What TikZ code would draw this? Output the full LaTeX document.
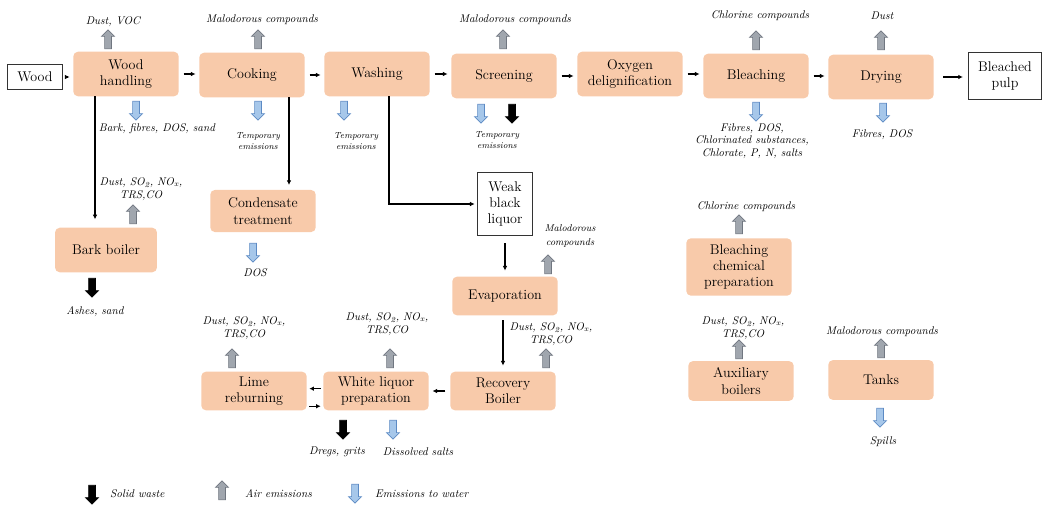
\documentclass[tikz,border=0pt]{standalone}
\usetikzlibrary{arrows.meta,calc,positioning,shapes.arrows}
\definecolor{procfill}{RGB}{248,202,170}
\definecolor{airfill}{RGB}{160,166,174}
\definecolor{airdraw}{RGB}{112,118,128}
\definecolor{waterfill}{RGB}{166,199,234}
\definecolor{waterdraw}{RGB}{92,138,196}
\tikzset{proc/.style={
        fill=procfill,
        rounded corners=4pt,
        align=center,
        minimum width=90pt,
        minimum height=38pt,
        inner sep=1pt,
        font=\fontsize{12}{14}\selectfont,
    },
    endbox/.style={draw=black!80, line width=0.8pt, fill=white, align=center,
        inner sep=2pt, font=\fontsize{12}{14}\selectfont},
    emis/.style={font=\fontsize{9.5}{10.5}\selectfont\itshape, align=center, inner sep=0pt},
    tinyemis/.style={font=\fontsize{7.5}{10}\selectfont\itshape, align=center, inner sep=0pt},
    blockarrow/.style={single arrow, minimum height=16pt, single arrow head extend=2.6pt,
        inner xsep=0pt, inner ysep=2.6pt, line width=0.6pt, rotate=#1},
    airarrow/.style={blockarrow=90, draw=airdraw, fill=airfill},
    waterarrow/.style={blockarrow=-90, draw=waterdraw, fill=waterfill},
    solidarrow/.style={blockarrow=-90, draw=black, fill=black},
    flow/.style={-{Latex[length=4pt,width=4pt]}, line width=1pt, shorten <=4pt, shorten >=3pt},
}
\begin{document}
\begin{tikzpicture}[x=0.03cm,y=-0.03cm]
  \useasboundingbox (0,0) rectangle (1045,505);
  % main line
  \node[endbox, minimum width=47pt, minimum height=22pt] (wood) at (35,77) {Wood};
  \node[proc] (whandling) at (126,74) {Wood\\handling};
  \node[proc] (cook) at (252,75) {Cooking};
  \node[proc] (wash) at (377,74) {Washing};
  \node[proc] (screen) at (504,76) {Screening};
  \node[proc] (oxy) at (630,74) {Oxygen\\delignification};
  \node[proc] (bleach) at (756,76) {Bleaching};
  \node[proc] (dry) at (881,77) {Drying};
  \node[endbox, minimum width=63pt, minimum height=40pt] (pulp) at (1005,76) {Bleached\\pulp};
  % side processes
  \node[proc, minimum width=87pt] (barkb) at (106,250) {Bark boiler};
  \node[proc, minimum height=36pt] (cond) at (263,211) {Condensate\\treatment};
  \node[endbox, minimum width=47pt, minimum height=54pt] (wbl) at (505,204) {Weak\\black\\liquor};
  \node[proc, minimum height=33pt] (evap) at (505,296) {Evaporation};
  \node[proc, minimum height=33pt] (recb) at (503,391) {Recovery\\Boiler};
  \node[proc, minimum height=33pt] (wlp) at (376,391) {White liquor\\preparation};
  \node[proc, minimum height=33pt] (lime) at (254,391) {Lime\\reburning};
  \node[proc, minimum height=49pt] (bcp) at (739,267) {Bleaching\\chemical\\preparation};
  \node[proc, minimum height=34pt] (aux) at (741,381) {Auxiliary\\boilers};
  \node[proc, minimum height=34pt] (tank) at (881,380) {Tanks};

  % flows
  \draw[flow] (wood.east) -- (wood.east -| whandling.west);
  \draw[flow] (whandling.east) -- (whandling.east -| cook.west);
  \draw[flow] (cook.east) -- (cook.east -| wash.west);
  \draw[flow] (wash.east) -- (wash.east -| screen.west);
  \draw[flow] (screen.east) -- (screen.east -| oxy.west);
  \draw[flow] (oxy.east) -- (oxy.east -| bleach.west);
  \draw[flow] (bleach.east) -- (bleach.east -| dry.west);
  \draw[flow, shorten <=8pt, shorten >=4pt] (dry.east) -- (dry.east -| pulp.west);
  \coordinate (whdrop) at ($(whandling.south)+(-31,0)$);
  \coordinate (cookdrop) at ($(cook.south)+(37,0)$);
  \coordinate (washdrop) at ($(wash.south)+(12,0)$);
  \draw[flow, shorten <=0pt, shorten >=7pt] (whdrop) -- (whdrop |- barkb.north);
  \draw[flow, shorten <=0pt, shorten >=4pt] (cookdrop) -- (cookdrop |- cond.north);
  \draw[flow, shorten <=0pt, shorten >=2pt] (washdrop) |- (wbl.west);
  \draw[flow, shorten <=6pt, shorten >=5pt] (wbl.south) -- (evap.north);
  \draw[flow, shorten <=4pt, shorten >=5pt] (evap.south -| recb.north) -- (recb.north);
  \draw[flow] (recb.west) -- (wlp.east);
  \draw[flow, shorten <=2pt, shorten >=2pt] ([yshift=2pt]wlp.west) -- ([yshift=2pt]lime.east);
  \draw[flow, shorten <=2pt, shorten >=2pt] ([yshift=-13pt]lime.east) -- ([yshift=-13pt]wlp.west);

  % air emissions
  \node[airarrow] (whair) at (108,41) {};
  \node[airarrow] (cookair) at (258,41) {};
  \node[airarrow] (scrair) at (503,41) {};
  \node[airarrow] (bleachair) at (756,42) {};
  \node[airarrow] (dryair) at (881,42) {};
  \node[airarrow] (barkair) at (133,216) {};
  \node[airarrow] (evapair) at (548,266) {};
  \node[airarrow] (limeair) at (232,360) {};
  \node[airarrow] (wlpair) at (390,360) {};
  \node[airarrow] (recbair) at (546,360) {};
  \node[airarrow] (bcpair) at (739,226) {};
  \node[airarrow] (auxair) at (739,351) {};
  \node[airarrow] (tankair) at (881,350) {};
  % water emissions
  \node[waterarrow] (whwater) at (136,109) {};
  \node[waterarrow] (cookwater) at (258,109) {};
  \node[waterarrow] (washwater) at (344,109) {};
  \node[waterarrow] (scrwater) at (481,112) {};
  \node[waterarrow] (bleachwater) at (756,110) {};
  \node[waterarrow] (drywater) at (883,111) {};
  \node[waterarrow] (condwater) at (253,251) {};
  \node[waterarrow] (wlpwater) at (393,428) {};
  \node[waterarrow] (tankwater) at (880,416) {};
  % solid waste
  \node[solidarrow] (scrsolid) at (512,112) {};
  \node[solidarrow] (barksolid) at (92,286) {};
  \node[solidarrow] (wlpsolid) at (343,428) {};

  % emission labels
  \node[emis] (whairlbl) at (113,22) {Dust, VOC};
  \node[emis] (cookairlbl) at (262,20) {Malodorous compounds};
  \node[emis] (scrairlbl) at (515,20) {Malodorous compounds};
  \node[emis] (bleachairlbl) at (760,16) {Chlorine compounds};
  \node[emis] (dryairlbl) at (882,16) {Dust};
  \node[emis] (whwaterlbl) at (157,129) {Bark, fibres, DOS, sand};
  \node[tinyemis] (cookwaterlbl) at (258,141) {Temporary\\emissions};
  \node[tinyemis] (washwaterlbl) at (356,141) {Temporary\\emissions};
  \node[tinyemis] (scrwaterlbl) at (497,140) {Temporary\\emissions};
  \node[emis] (bleachwaterlbl) at (752,141) {Fibres, DOS,\\Chlorinated substances,\\Chlorate, P, N, salts};
  \node[emis] (drywaterlbl) at (882,135) {Fibres, DOS};
  \node[emis] (barkairlbl) at (141,189) {Dust, SO\textsubscript{2}, NO\textsubscript{x},\\TRS,CO};
  \node[emis] (barksolidlbl) at (95,312) {Ashes, sand};
  \node[emis] (condwaterlbl) at (255,273) {DOS};
  \node[emis, font=\fontsize{8.5}{12.5}\selectfont\itshape] (evapairlbl) at (570,236) {Malodorous\\compounds};
  \node[emis] (limeairlbl) at (244,328) {Dust, SO\textsubscript{2}, NO\textsubscript{x},\\TRS,CO};
  \node[emis] (wlpairlbl) at (387,324) {Dust, SO\textsubscript{2}, NO\textsubscript{x},\\TRS,CO};
  \node[emis] (recbairlbl) at (551,334) {Dust, SO\textsubscript{2}, NO\textsubscript{x},\\TRS,CO};
  \node[emis] (bcpairlbl) at (746,207) {Chlorine compounds};
  \node[emis] (auxairlbl) at (743,328) {Dust, SO\textsubscript{2}, NO\textsubscript{x},\\TRS,CO};
  \node[emis] (tankairlbl) at (882,332) {Malodorous compounds};
  \node[emis] (tankwaterlbl) at (883,442) {Spills};
  \node[emis] (wlpsolidlbl) at (337,452) {Dregs, grits};
  \node[emis] (wlpwaterlbl) at (418,452) {Dissolved salts};

  % legend
  \node[solidarrow] (legsolid) at (92,493) {};
  \node[emis, anchor=west] (legsolidlbl) at (110,494) {Solid waste};
  \node[airarrow] (legair) at (222,492) {};
  \node[emis, anchor=west] (legairlbl) at (245,494) {Air emissions};
  \node[waterarrow] (legwater) at (355,492) {};
  \node[emis, anchor=west] (legwaterlbl) at (375,494) {Emissions to water};
\end{tikzpicture}
\end{document}
